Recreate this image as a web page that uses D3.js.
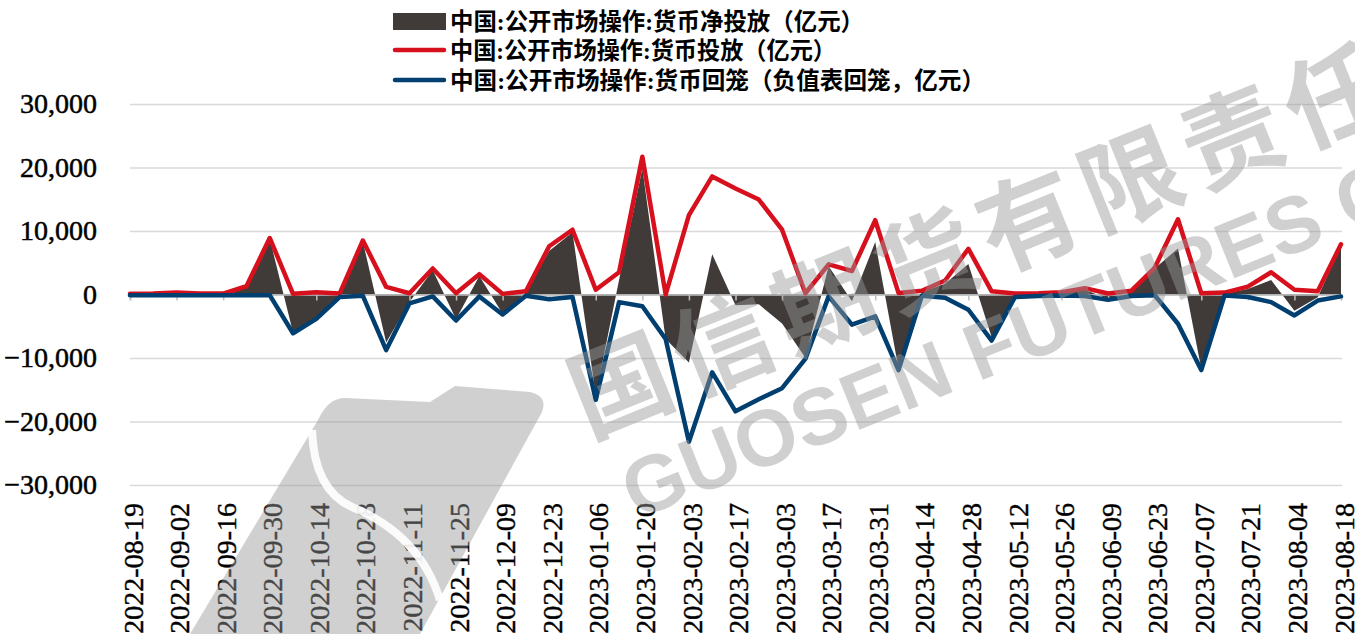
<!DOCTYPE html>
<html>
<head>
<meta charset="utf-8">
<script src="https://cdn.jsdelivr.net/npm/d3@7"></script>
<style>
  body { margin: 0; background: #fff; }
</style>
</head>
<body>
<svg id="chart" width="1355" height="634"></svg>
<script>
// weekly dates
var dates = [
  "2022-08-19","2022-08-26","2022-09-02","2022-09-09","2022-09-16","2022-09-23","2022-09-30",
  "2022-10-07","2022-10-14","2022-10-21","2022-10-28","2022-11-04","2022-11-11","2022-11-18",
  "2022-11-25","2022-12-02","2022-12-09","2022-12-16","2022-12-23","2022-12-30","2023-01-06",
  "2023-01-13","2023-01-20","2023-01-27","2023-02-03","2023-02-10","2023-02-17","2023-02-24",
  "2023-03-03","2023-03-10","2023-03-17","2023-03-24","2023-03-31","2023-04-07","2023-04-14",
  "2023-04-21","2023-04-28","2023-05-05","2023-05-12","2023-05-19","2023-05-26","2023-06-02",
  "2023-06-09","2023-06-16","2023-06-23","2023-06-30","2023-07-07","2023-07-14","2023-07-21",
  "2023-07-28","2023-08-04","2023-08-11","2023-08-18"
];

// x tick labels (every two weeks)
var tickDates = [
  "2022-08-19","2022-09-02","2022-09-16","2022-09-30","2022-10-14","2022-10-28","2022-11-11",
  "2022-11-25","2022-12-09","2022-12-23","2023-01-06","2023-01-20","2023-02-03","2023-02-17",
  "2023-03-03","2023-03-17","2023-03-31","2023-04-14","2023-04-28","2023-05-12","2023-05-26",
  "2023-06-09","2023-06-23","2023-07-07","2023-07-21","2023-08-04","2023-08-18"
];

// 货币净投放
var netValues = [
  0, 50, 200, 50, 50, 1200, 8800,
  -6000, -3500, -250, 8300, -7550, -1200, 3800,
  -3900, 2900, -3050, 300, 6850, 9800, -15850,
  2300, 19850, -7000, -10700, 6350, -1700, -1550,
  -4550, -9950, 4450, -1050, 8250, -11650, 400,
  1700, 4800, -6750, -250, -50, 200, 750,
  -700, 350, 4100, 7250, -11700, 150, 850,
  2300, -2550, -450, 7600
];

// 货币投放
var injectValues = [
  100, 150, 300, 150, 150, 1300, 8900,
  100, 350, 150, 8500, 1200, 200, 4100,
  200, 3200, 100, 500, 7600, 10200, 750,
  3500, 21700, 0, 12500, 18600, 16700, 14950,
  10200, 200, 4750, 3700, 11700, 250, 600,
  2200, 7200, 500, 150, 200, 350, 1000,
  150, 600, 4200, 11850, 200, 300, 1250,
  3500, 750, 500, 7900
];

// 货币回笼（负值）
var withdrawValues = [
  -100, -100, -100, -100, -100, -100, -100,
  -6100, -3850, -400, -200, -8750, -1400, -300,
  -4100, -300, -3150, -200, -750, -400, -16600,
  -1200, -1850, -7000, -23200, -12250, -18400, -16500,
  -14750, -10150, -300, -4750, -3450, -11900, -200,
  -500, -2400, -7250, -400, -250, -150, -250,
  -850, -250, -100, -4600, -11900, -150, -400,
  -1200, -3300, -950, -300
];

var yTicks = [30000, 20000, 10000, 0, -10000, -20000, -30000];

var legendLabels = [
  "中国:公开市场操作:货币净投放（亿元）",
  "中国:公开市场操作:货币投放（亿元）",
  "中国:公开市场操作:货币回笼（负值表回笼，亿元）"
];

var colDark = "#403b39", colRed = "#d7101e", colBlue = "#003f6f";
var serif = "'Liberation Serif','Times New Roman','Noto Sans CJK SC',serif";

var svg = d3.select("#chart");
var plotLeft = 130, plotRight = 1341, plotTop = 104, plotBottom = 485;

var x = d3.scalePoint().domain(dates).range([plotLeft, plotRight]);
var y = d3.scaleLinear().domain([-30000, 30000]).range([plotBottom, plotTop]);

// Gitterlinien + y-Beschriftung
var yAxis = svg.append("g")
  .attr("transform", "translate(" + plotLeft + ",0)")
  .call(d3.axisLeft(y).tickValues(yTicks).tickSize(-(plotRight - plotLeft + 1)).tickPadding(33).tickFormat(d3.format(",")));
yAxis.select(".domain").remove();
yAxis.selectAll("line").attr("stroke", "#d9d9d9").attr("stroke-width", 1.5);
yAxis.selectAll("text").attr("font-family", serif).attr("font-size", 28).attr("fill", "#000")
  .attr("stroke", "#000").attr("stroke-width", 0.5);

// Netto-Fläche
var area = d3.area()
  .x(function(d, i) { return x(dates[i]); })
  .y0(y(0))
  .y1(function(d) { return y(d); });
svg.append("path").datum(netValues).attr("d", area).attr("fill", colDark);

// Nulllinie mit Ticks
var xAxis = svg.append("g")
  .attr("transform", "translate(0," + y(0) + ")")
  .call(d3.axisBottom(x).tickValues(tickDates).tickSize(6).tickFormat(""));
xAxis.select(".domain").attr("stroke", "#bfbfbf").attr("stroke-width", 1.5);
xAxis.selectAll("line").attr("stroke", "#bfbfbf").attr("stroke-width", 1.5);

// Linien
var line = d3.line().x(function(d, i) { return x(dates[i]); }).y(function(d) { return y(d); });
svg.append("path").datum(injectValues).attr("d", line)
  .attr("fill", "none").attr("stroke", colRed).attr("stroke-width", 4.5)
  .attr("stroke-linejoin", "round").attr("stroke-linecap", "round");
svg.append("path").datum(withdrawValues).attr("d", line)
  .attr("fill", "none").attr("stroke", colBlue).attr("stroke-width", 4.5)
  .attr("stroke-linejoin", "round").attr("stroke-linecap", "round");

// x-Beschriftung (gedreht)
svg.append("g").selectAll("text").data(tickDates).enter().append("text")
  .attr("transform", function(d) { return "translate(" + x(d) + ",503) rotate(-90)"; })
  .attr("text-anchor", "end")
  .attr("dy", "0.45em")
  .attr("font-family", serif).attr("font-size", 28).attr("fill", "#000")
  .attr("stroke", "#000").attr("stroke-width", 0.4)
  .text(function(d) { return d; });

// Legende
var legendY = [21, 50, 80];
var legendW = [414, 386, 535];
var lg = svg.append("g");
lg.append("rect").attr("x", 393).attr("y", 13).attr("width", 53).attr("height", 17).attr("fill", colDark);
lg.append("line").attr("x1", 395).attr("x2", 444).attr("y1", legendY[1]).attr("y2", legendY[1])
  .attr("stroke", colRed).attr("stroke-width", 4.5).attr("stroke-linecap", "round");
lg.append("line").attr("x1", 395).attr("x2", 444).attr("y1", legendY[2]).attr("y2", legendY[2])
  .attr("stroke", colBlue).attr("stroke-width", 4.5).attr("stroke-linecap", "round");
lg.selectAll("text").data(legendLabels).enter().append("text")
  .attr("x", 450)
  .attr("y", function(d, i) { return legendY[i]; })
  .attr("dy", "0.36em")
  .attr("textLength", function(d, i) { return legendW[i]; })
  .attr("lengthAdjust", "spacingAndGlyphs")
  .attr("font-family", serif).attr("font-weight", "bold").attr("font-size", 24).attr("fill", "#000")
  .text(function(d) { return d; });

// Wasserzeichen
var wm = svg.append("g").attr("fill", "#9a9a9a").attr("opacity", 0.46).attr("pointer-events", "none");
wm.append("path")
  .attr("d", "M190,634 L318,420 Q328,398 345,398 L430,402 L455,386 L530,392 Q548,396 542,412 L420,634 Z");
wm.append("text")
  .attr("transform", "translate(588,438) rotate(-22)")
  .attr("font-family", "'Noto Sans CJK SC',sans-serif").attr("font-weight", "bold")
  .attr("font-size", 100).attr("letter-spacing", 10)
  .text("国信期货有限责任公司");
wm.append("text")
  .attr("transform", "translate(636,520) rotate(-22)")
  .attr("font-family", "'Liberation Sans',Arial,sans-serif").attr("font-weight", "bold")
  .attr("font-size", 80)
  .text("GUOSEN FUTURES CO");
svg.append("path")
  .attr("d", "M312,430 Q314,490 352,507 Q420,535 440,600")
  .attr("fill", "none").attr("stroke", "#fff").attr("stroke-width", 8).attr("opacity", 0.9);
</script>
</body>
</html>
